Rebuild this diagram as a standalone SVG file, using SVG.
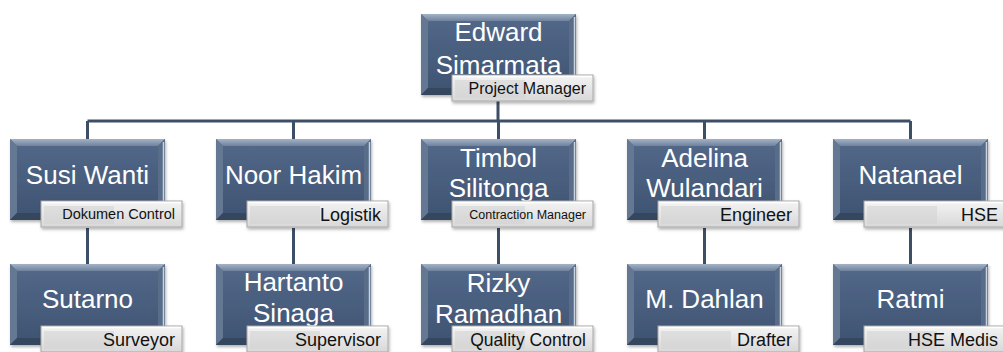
<svg xmlns="http://www.w3.org/2000/svg" width="1003" height="352" viewBox="0 0 1003 352">
  <defs>
    <linearGradient id="face" x1="0" y1="0" x2="0" y2="1">
      <stop offset="0" stop-color="#54698a"/>
      <stop offset="1" stop-color="#3e5371"/>
    </linearGradient>
    <linearGradient id="bevTop" x1="0" y1="0" x2="0" y2="1">
      <stop offset="0" stop-color="#a3b2c6"/>
      <stop offset="1" stop-color="#6f829d"/>
    </linearGradient>
    <linearGradient id="lblFill" x1="0" y1="0" x2="0" y2="1">
      <stop offset="0" stop-color="#f4f4f4"/>
      <stop offset="0.5" stop-color="#e6e6e6"/>
      <stop offset="1" stop-color="#d8d8d8"/>
    </linearGradient>
    <filter id="sh" x="-10%" y="-10%" width="125%" height="130%">
      <feDropShadow dx="1" dy="2" stdDeviation="1.5" flood-color="#000" flood-opacity="0.3"/>
    </filter>
  </defs>
  <style>
    .face { fill: url(#face); }
    .bt { fill: url(#bevTop); }
    .bl { fill: #657893; }
    .br { fill: #5a6d88; }
    .bb { fill: #34475f; }
    .hl { stroke: #c8d4e4; stroke-width: 1.5; fill: none; }
    .lbl { fill: url(#lblFill); stroke: #a8a8a8; stroke-width: 1; }
    .lblin { fill: #d2d2d2; opacity: 0.55; }
    .lbltop { stroke: #ffffff; stroke-width: 1.5; }
    .name { font-family: "Liberation Sans", Arial, sans-serif; font-size: 26px; fill: #ffffff; text-anchor: middle; }
    .role { font-family: "Liberation Sans", Arial, sans-serif; font-size: 18px; fill: #111111; text-anchor: end; }
    .r-m { font-size: 16px; }
    .r-q { font-size: 17.5px; }
    .r-s { font-size: 14.5px; }
    .r-xs { font-size: 12.5px; }
    .conn { stroke: #3d4f67; stroke-width: 3; fill: none; }
  </style>

  <g id="connectors">
    <path class="conn" d="M498 100 V121 M87.5 121 H910.5"/>
    <path class="conn" d="M87.5 121 V139 M293.5 121 V139 M498.5 121 V139 M704.5 121 V139 M910.5 121 V139"/>
    <path class="conn" d="M87.5 228 V264 M293.5 228 V264 M498.5 228 V264 M704.5 228 V264 M910.5 228 V264"/>
  </g>

  <!-- Node template drawn in local coords: box 155x81, label at (31,62) 141x26 -->
  <g id="n-edward" transform="translate(421,14)">
    <g filter="url(#sh)">
      <rect class="face" width="155" height="81"/>
      <polygon class="bt" points="0,0 155,0 148,7 7,7"/>
      <polygon class="bl" points="0,0 7,7 7,74 0,81"/>
      <polygon class="br" points="155,0 155,81 148,74 148,7"/>
      <polygon class="bb" points="0,81 155,81 148,74 7,74"/>
      <line class="hl" x1="153.5" y1="3" x2="153.5" y2="79"/>
    </g>
    <text class="name" x="77.5" y="27">Edward</text>
    <text class="name" x="77.5" y="60">Simarmata</text>
    <g filter="url(#sh)">
      <rect class="lbl" x="31" y="61" width="141" height="26"/>
      <rect class="lblin" x="34" y="66" width="70" height="18"/>
      <line class="lbltop" x1="32" y1="62.5" x2="171" y2="62.5"/>
    </g>
    <text class="role r-m" x="165" y="80">Project Manager</text>
  </g>

  <g id="n-susi" transform="translate(10,139)">
    <g filter="url(#sh)">
      <rect class="face" width="155" height="81"/>
      <polygon class="bt" points="0,0 155,0 148,7 7,7"/>
      <polygon class="bl" points="0,0 7,7 7,74 0,81"/>
      <polygon class="br" points="155,0 155,81 148,74 148,7"/>
      <polygon class="bb" points="0,81 155,81 148,74 7,74"/>
      <line class="hl" x1="153.5" y1="3" x2="153.5" y2="79"/>
    </g>
    <text class="name" x="77.5" y="45">Susi Wanti</text>
    <g filter="url(#sh)">
      <rect class="lbl" x="31" y="62" width="141" height="26"/>
      <rect class="lblin" x="34" y="67" width="70" height="18"/>
      <line class="lbltop" x1="32" y1="63.5" x2="171" y2="63.5"/>
    </g>
    <text class="role r-s" x="165" y="80">Dokumen Control</text>
  </g>

  <g id="n-noor" transform="translate(216,139)">
    <g filter="url(#sh)">
      <rect class="face" width="155" height="81"/>
      <polygon class="bt" points="0,0 155,0 148,7 7,7"/>
      <polygon class="bl" points="0,0 7,7 7,74 0,81"/>
      <polygon class="br" points="155,0 155,81 148,74 148,7"/>
      <polygon class="bb" points="0,81 155,81 148,74 7,74"/>
      <line class="hl" x1="153.5" y1="3" x2="153.5" y2="79"/>
    </g>
    <text class="name" x="77.5" y="45">Noor Hakim</text>
    <g filter="url(#sh)">
      <rect class="lbl" x="31" y="62" width="141" height="26"/>
      <rect class="lblin" x="34" y="67" width="70" height="18"/>
      <line class="lbltop" x1="32" y1="63.5" x2="171" y2="63.5"/>
    </g>
    <text class="role" x="165" y="82">Logistik</text>
  </g>

  <g id="n-timbol" transform="translate(421,139)">
    <g filter="url(#sh)">
      <rect class="face" width="155" height="81"/>
      <polygon class="bt" points="0,0 155,0 148,7 7,7"/>
      <polygon class="bl" points="0,0 7,7 7,74 0,81"/>
      <polygon class="br" points="155,0 155,81 148,74 148,7"/>
      <polygon class="bb" points="0,81 155,81 148,74 7,74"/>
      <line class="hl" x1="153.5" y1="3" x2="153.5" y2="79"/>
    </g>
    <text class="name" x="77.5" y="28">Timbol</text>
    <text class="name" x="77.5" y="58">Silitonga</text>
    <g filter="url(#sh)">
      <rect class="lbl" x="31" y="62" width="141" height="26"/>
      <rect class="lblin" x="34" y="67" width="70" height="18"/>
      <line class="lbltop" x1="32" y1="63.5" x2="171" y2="63.5"/>
    </g>
    <text class="role r-xs" x="165" y="80">Contraction Manager</text>
  </g>

  <g id="n-adelina" transform="translate(627,139)">
    <g filter="url(#sh)">
      <rect class="face" width="155" height="81"/>
      <polygon class="bt" points="0,0 155,0 148,7 7,7"/>
      <polygon class="bl" points="0,0 7,7 7,74 0,81"/>
      <polygon class="br" points="155,0 155,81 148,74 148,7"/>
      <polygon class="bb" points="0,81 155,81 148,74 7,74"/>
      <line class="hl" x1="153.5" y1="3" x2="153.5" y2="79"/>
    </g>
    <text class="name" x="77.5" y="28">Adelina</text>
    <text class="name" x="77.5" y="58">Wulandari</text>
    <g filter="url(#sh)">
      <rect class="lbl" x="31" y="62" width="141" height="26"/>
      <rect class="lblin" x="34" y="67" width="70" height="18"/>
      <line class="lbltop" x1="32" y1="63.5" x2="171" y2="63.5"/>
    </g>
    <text class="role" x="165" y="82">Engineer</text>
  </g>

  <g id="n-natanael" transform="translate(833,139)">
    <g filter="url(#sh)">
      <rect class="face" width="155" height="81"/>
      <polygon class="bt" points="0,0 155,0 148,7 7,7"/>
      <polygon class="bl" points="0,0 7,7 7,74 0,81"/>
      <polygon class="br" points="155,0 155,81 148,74 148,7"/>
      <polygon class="bb" points="0,81 155,81 148,74 7,74"/>
      <line class="hl" x1="153.5" y1="3" x2="153.5" y2="79"/>
    </g>
    <text class="name" x="77.5" y="45">Natanael</text>
    <g filter="url(#sh)">
      <rect class="lbl" x="31" y="62" width="141" height="26"/>
      <rect class="lblin" x="34" y="67" width="70" height="18"/>
      <line class="lbltop" x1="32" y1="63.5" x2="171" y2="63.5"/>
    </g>
    <text class="role" x="165" y="82">HSE</text>
  </g>

  <g id="n-sutarno" transform="translate(10,264)">
    <g filter="url(#sh)">
      <rect class="face" width="155" height="81"/>
      <polygon class="bt" points="0,0 155,0 148,7 7,7"/>
      <polygon class="bl" points="0,0 7,7 7,74 0,81"/>
      <polygon class="br" points="155,0 155,81 148,74 148,7"/>
      <polygon class="bb" points="0,81 155,81 148,74 7,74"/>
      <line class="hl" x1="153.5" y1="3" x2="153.5" y2="79"/>
    </g>
    <text class="name" x="77.5" y="44">Sutarno</text>
    <g filter="url(#sh)">
      <rect class="lbl" x="31" y="62" width="141" height="26"/>
      <rect class="lblin" x="34" y="67" width="70" height="18"/>
      <line class="lbltop" x1="32" y1="63.5" x2="171" y2="63.5"/>
    </g>
    <text class="role" x="165" y="82">Surveyor</text>
  </g>

  <g id="n-hartanto" transform="translate(216,264)">
    <g filter="url(#sh)">
      <rect class="face" width="155" height="81"/>
      <polygon class="bt" points="0,0 155,0 148,7 7,7"/>
      <polygon class="bl" points="0,0 7,7 7,74 0,81"/>
      <polygon class="br" points="155,0 155,81 148,74 148,7"/>
      <polygon class="bb" points="0,81 155,81 148,74 7,74"/>
      <line class="hl" x1="153.5" y1="3" x2="153.5" y2="79"/>
    </g>
    <text class="name" x="77.5" y="27">Hartanto</text>
    <text class="name" x="77.5" y="58">Sinaga</text>
    <g filter="url(#sh)">
      <rect class="lbl" x="31" y="62" width="141" height="26"/>
      <rect class="lblin" x="34" y="67" width="70" height="18"/>
      <line class="lbltop" x1="32" y1="63.5" x2="171" y2="63.5"/>
    </g>
    <text class="role" x="165" y="82">Supervisor</text>
  </g>

  <g id="n-rizky" transform="translate(421,264)">
    <g filter="url(#sh)">
      <rect class="face" width="155" height="81"/>
      <polygon class="bt" points="0,0 155,0 148,7 7,7"/>
      <polygon class="bl" points="0,0 7,7 7,74 0,81"/>
      <polygon class="br" points="155,0 155,81 148,74 148,7"/>
      <polygon class="bb" points="0,81 155,81 148,74 7,74"/>
      <line class="hl" x1="153.5" y1="3" x2="153.5" y2="79"/>
    </g>
    <text class="name" x="77.5" y="28">Rizky</text>
    <text class="name" x="77.5" y="59">Ramadhan</text>
    <g filter="url(#sh)">
      <rect class="lbl" x="31" y="62" width="141" height="26"/>
      <rect class="lblin" x="34" y="67" width="70" height="18"/>
      <line class="lbltop" x1="32" y1="63.5" x2="171" y2="63.5"/>
    </g>
    <text class="role r-q" x="165" y="82">Quality Control</text>
  </g>

  <g id="n-dahlan" transform="translate(627,264)">
    <g filter="url(#sh)">
      <rect class="face" width="155" height="81"/>
      <polygon class="bt" points="0,0 155,0 148,7 7,7"/>
      <polygon class="bl" points="0,0 7,7 7,74 0,81"/>
      <polygon class="br" points="155,0 155,81 148,74 148,7"/>
      <polygon class="bb" points="0,81 155,81 148,74 7,74"/>
      <line class="hl" x1="153.5" y1="3" x2="153.5" y2="79"/>
    </g>
    <text class="name" x="77.5" y="44">M. Dahlan</text>
    <g filter="url(#sh)">
      <rect class="lbl" x="31" y="62" width="141" height="26"/>
      <rect class="lblin" x="34" y="67" width="70" height="18"/>
      <line class="lbltop" x1="32" y1="63.5" x2="171" y2="63.5"/>
    </g>
    <text class="role" x="165" y="82">Drafter</text>
  </g>

  <g id="n-ratmi" transform="translate(833,264)">
    <g filter="url(#sh)">
      <rect class="face" width="155" height="81"/>
      <polygon class="bt" points="0,0 155,0 148,7 7,7"/>
      <polygon class="bl" points="0,0 7,7 7,74 0,81"/>
      <polygon class="br" points="155,0 155,81 148,74 148,7"/>
      <polygon class="bb" points="0,81 155,81 148,74 7,74"/>
      <line class="hl" x1="153.5" y1="3" x2="153.5" y2="79"/>
    </g>
    <text class="name" x="77.5" y="44">Ratmi</text>
    <g filter="url(#sh)">
      <rect class="lbl" x="31" y="62" width="141" height="26"/>
      <rect class="lblin" x="34" y="67" width="70" height="18"/>
      <line class="lbltop" x1="32" y1="63.5" x2="171" y2="63.5"/>
    </g>
    <text class="role" x="165" y="82">HSE Medis</text>
  </g>
</svg>
